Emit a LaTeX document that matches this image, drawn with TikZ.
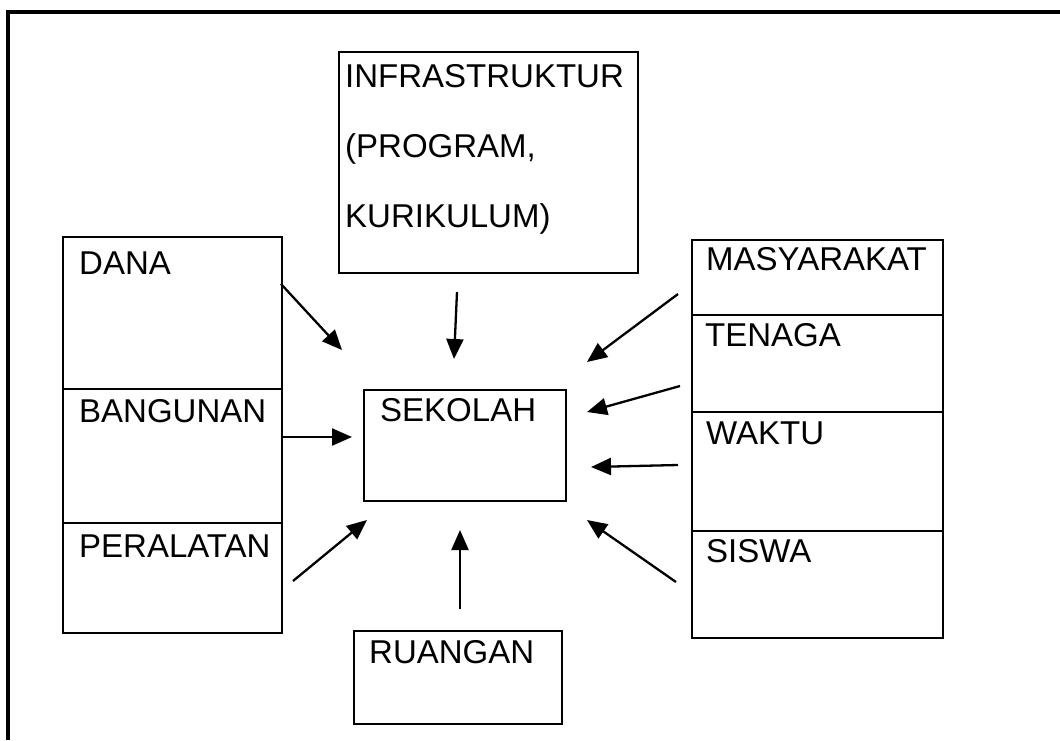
\documentclass[tikz,border=0pt]{standalone}
\usepackage{fontspec}
\setmainfont{Liberation Sans}
\usetikzlibrary{arrows.meta}
\begin{document}
\begin{tikzpicture}[x=1pt,y=-1pt,
  box/.style={draw, line width=2.3pt, inner sep=0pt, anchor=north west},
  lbl/.style={anchor=base west, inner sep=0pt, font=\fontsize{33}{39}\selectfont},
  arr/.style={line width=2.3pt, -{Triangle[length=20pt,width=17pt]}}]
\useasboundingbox (0,0) rectangle (1060,740);
% outer frame (top and left only)
\draw[line width=4.8pt] (8,740) -- (8,12) -- (1060,12);
% left stack
\node[box, minimum width=219pt, minimum height=152pt] (dana) at (62,236) {};
\node[box, minimum width=219pt, minimum height=134pt] (bangunan) at (62,388) {};
\node[box, minimum width=219pt, minimum height=110pt] (peralatan) at (62,522) {};
\node[lbl] at (79,274) {DANA};
\node[lbl] at (79,422) {BANGUNAN};
\node[lbl] at (79,557) {PERALATAN};
% top box
\node[box, minimum width=299pt, minimum height=221pt] (infra) at (338,51) {};
\node[lbl] at (345,87) {INFRASTRUKTUR};
\node[lbl] at (345,157) {(PROGRAM,};
\node[lbl] at (345,227) {KURIKULUM)};
% centre
\node[box, minimum width=202pt, minimum height=111pt] (sekolah) at (363,389) {};
\node[lbl] at (380,421) {SEKOLAH};
% bottom
\node[box, minimum width=208pt, minimum height=93pt] (ruangan) at (353,630) {};
\node[lbl] at (369,663) {RUANGAN};
% right stack
\node[box, minimum width=251pt, minimum height=75pt] (masy) at (691,239) {};
\node[box, minimum width=251pt, minimum height=97pt] (tenaga) at (691,314) {};
\node[box, minimum width=251pt, minimum height=119pt] (waktu) at (691,411) {};
\node[box, minimum width=251pt, minimum height=107pt] (siswa) at (691,530) {};
\node[lbl] at (706,270) {MASYARAKAT};
\node[lbl] at (705,346) {TENAGA};
\node[lbl] at (706,444) {WAKTU};
\node[lbl] at (706,562) {SISWA};
% arrow ends
\coordinate (d1) at (281,284); \coordinate (d2) at (342,350);
\coordinate (b1) at (281,437); \coordinate (b2) at (352,437);
\coordinate (p1) at (293,581); \coordinate (p2) at (367,520);
\coordinate (i1) at (457,292); \coordinate (i2) at (454,359);
\coordinate (r1) at (460,609); \coordinate (r2) at (460,530);
\coordinate (m1) at (678,294); \coordinate (m2) at (587,362);
\coordinate (t1) at (680,386); \coordinate (t2) at (587,412);
\coordinate (w1) at (678,465); \coordinate (w2) at (591,467);
\coordinate (s1) at (676,582); \coordinate (s2) at (587,520);
\draw[arr] (d1) -- (d2);
\draw[arr] (b1) -- (b2);
\draw[arr] (p1) -- (p2);
\draw[arr] (i1) -- (i2);
\draw[arr] (r1) -- (r2);
\draw[arr] (m1) -- (m2);
\draw[arr] (t1) -- (t2);
\draw[arr] (w1) -- (w2);
\draw[arr] (s1) -- (s2);
\end{tikzpicture}
\end{document}
